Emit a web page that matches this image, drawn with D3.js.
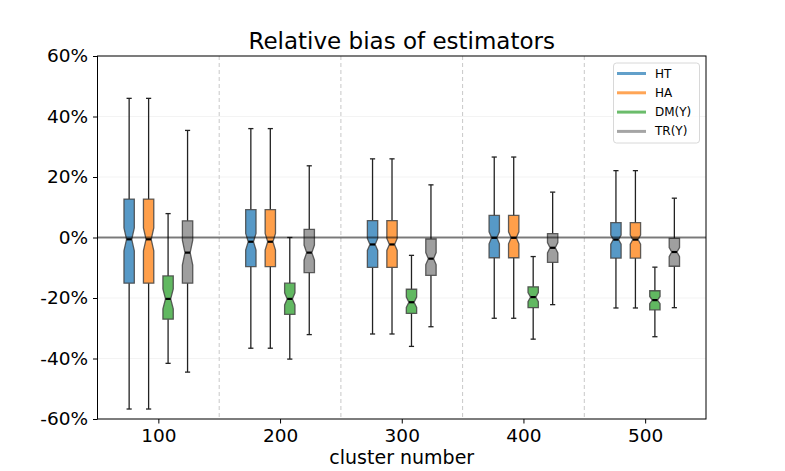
<!DOCTYPE html>
<html>
<head>
<meta charset="utf-8">
<script src="https://cdn.jsdelivr.net/npm/d3@7"></script>
<style>
  body { margin: 0; background: #fff; }
  svg text { font-family: 'DejaVu Sans', sans-serif; fill: #000; }
</style>
</head>
<body>
<div id="chart"></div>
<script>
// Categories
var clusters = [100, 200, 300, 400, 500];
var estimators = ['HT', 'HA', 'DM(Y)', 'TR(Y)'];
var colors = ['#1f77b4', '#ff7f0e', '#2ca02c', '#7f7f7f'];
var offsets = [-24, -8, 8, 24]; // position inside each cluster group

// Box stats per estimator, one value per cluster (in %)
var whiskerHigh = [
  [46.0, 36.0, 26.0, 26.6, 22.1],
  [46.0, 36.0, 26.0, 26.6, 22.1],
  [7.9, 0.0, -5.9, -6.3, -9.8],
  [35.4, 23.7, 17.4, 15.0, 13.0]
];
var q3 = [
  [12.7, 9.2, 5.6, 7.3, 4.9],
  [12.7, 9.2, 5.6, 7.3, 4.9],
  [-12.7, -15.1, -17.1, -16.3, -17.6],
  [5.5, 2.7, -0.5, 1.3, -0.3]
];
var median = [
  [-0.6, -1.4, -2.3, -0.1, -0.7],
  [-0.6, -1.4, -2.3, -0.1, -0.7],
  [-20.3, -20.3, -21.4, -19.7, -20.7],
  [-5.0, -5.0, -7.0, -3.4, -4.8]
];
var q1 = [
  [-15.1, -9.6, -9.9, -6.7, -6.8],
  [-15.1, -9.6, -9.9, -6.7, -6.8],
  [-27.0, -25.4, -25.1, -23.2, -23.9],
  [-15.1, -11.6, -12.5, -8.2, -9.5]
];
var whiskerLow = [
  [-56.7, -36.6, -31.9, -26.7, -23.3],
  [-56.7, -36.6, -31.9, -26.7, -23.3],
  [-41.6, -40.2, -36.0, -33.6, -32.8],
  [-44.5, -32.1, -29.5, -22.2, -23.2]
];
// notch half height (in %)
var notch = [
  [3.8, 2.75, 2.0, 2.0, 1.5],
  [3.8, 2.75, 2.0, 2.0, 1.5],
  [3.3, 2.0, 1.7, 1.5, 1.2],
  [4.1, 2.5, 2.0, 1.7, 1.5]
];

var yTicks = [-60, -40, -20, 0, 20, 40, 60];

function init() {
  var w = 785;
  var h = 471;
  var left = 97.5, right = 706, top = 56, bottom = 419;

  var svg = d3.select('#chart').append('svg')
    .attr('width', w)
    .attr('height', h);

  // Scales
  var xScale = d3.scaleLinear().domain([50, 550]).range([left, right]);
  var yScale = d3.scaleLinear().domain([-60, 60]).range([bottom, top]);
  var boxWidth = 8.5;

  // Horizontal grid
  svg.append('g')
    .selectAll('line')
    .data(yTicks)
    .enter()
    .append('line')
    .attr('x1', left).attr('x2', right)
    .attr('y1', function (d) { return yScale(d); })
    .attr('y2', function (d) { return yScale(d); })
    .attr('stroke', '#b0b0b0')
    .attr('stroke-opacity', 0.2)
    .attr('stroke-width', 0.8);

  // Vertical dashed separators
  svg.append('g')
    .selectAll('line')
    .data(clusters.slice(0, -1))
    .enter()
    .append('line')
    .attr('x1', function (d) { return xScale(d + 50); })
    .attr('x2', function (d) { return xScale(d + 50); })
    .attr('y1', top).attr('y2', bottom)
    .attr('stroke', '#c8c8c8')
    .attr('stroke-width', 1)
    .attr('stroke-dasharray', '4,3');

  // Boxes
  estimators.forEach(function (name, s) {
    var g = svg.append('g');
    var data = clusters.map(function (c, i) {
      return {
        x: c + offsets[s],
        lo: whiskerLow[s][i], q1: q1[s][i], med: median[s][i],
        q3: q3[s][i], hi: whiskerHigh[s][i], n: notch[s][i]
      };
    });

    // whiskers
    g.selectAll('.whisker-lo')
      .data(data).enter().append('line')
      .attr('x1', function (d) { return xScale(d.x); })
      .attr('x2', function (d) { return xScale(d.x); })
      .attr('y1', function (d) { return yScale(d.q1); })
      .attr('y2', function (d) { return yScale(d.lo); })
      .attr('stroke', '#222').attr('stroke-width', 1.3);
    g.selectAll('.whisker-hi')
      .data(data).enter().append('line')
      .attr('x1', function (d) { return xScale(d.x); })
      .attr('x2', function (d) { return xScale(d.x); })
      .attr('y1', function (d) { return yScale(d.q3); })
      .attr('y2', function (d) { return yScale(d.hi); })
      .attr('stroke', '#222').attr('stroke-width', 1.3);

    // caps
    ['lo', 'hi'].forEach(function (k) {
      g.selectAll('.cap-' + k)
        .data(data).enter().append('line')
        .attr('x1', function (d) { return xScale(d.x - boxWidth / 4); })
        .attr('x2', function (d) { return xScale(d.x + boxWidth / 4); })
        .attr('y1', function (d) { return yScale(d[k]); })
        .attr('y2', function (d) { return yScale(d[k]); })
        .attr('stroke', '#222').attr('stroke-width', 1.3);
    });

    // notched box
    g.selectAll('path')
      .data(data).enter().append('path')
      .attr('d', function (d) {
        var bl = xScale(d.x - boxWidth / 2), br = xScale(d.x + boxWidth / 2);
        var cl = xScale(d.x - boxWidth / 4), cr = xScale(d.x + boxWidth / 4);
        var pts = [
          [bl, d.q1], [br, d.q1], [br, d.med - d.n], [cr, d.med],
          [br, d.med + d.n], [br, d.q3], [bl, d.q3], [bl, d.med + d.n],
          [cl, d.med], [bl, d.med - d.n]
        ];
        return 'M' + pts.map(function (p) { return p[0] + ',' + yScale(p[1]); }).join('L') + 'Z';
      })
      .attr('fill', colors[s])
      .attr('fill-opacity', 0.75)
      .attr('stroke', '#444')
      .attr('stroke-opacity', 0.85)
      .attr('stroke-width', 1.3);

    // median
    g.selectAll('.median')
      .data(data).enter().append('line')
      .attr('x1', function (d) { return xScale(d.x - boxWidth / 4); })
      .attr('x2', function (d) { return xScale(d.x + boxWidth / 4); })
      .attr('y1', function (d) { return yScale(d.med); })
      .attr('y2', function (d) { return yScale(d.med); })
      .attr('stroke', '#000').attr('stroke-width', 2.2);
  });

  // Zero line
  svg.append('line')
    .attr('x1', left).attr('x2', right)
    .attr('y1', yScale(0)).attr('y2', yScale(0))
    .attr('stroke', '#000')
    .attr('stroke-opacity', 0.5)
    .attr('stroke-width', 1.8);

  // Frame
  svg.append('rect')
    .attr('x', left).attr('y', top)
    .attr('width', right - left).attr('height', bottom - top)
    .attr('fill', 'none')
    .attr('stroke', '#000')
    .attr('stroke-width', 1);

  // Axes
  var xAxis = d3.axisBottom(xScale).tickValues(clusters).tickSize(4.5).tickPadding(5);
  var gx = svg.append('g')
    .attr('transform', 'translate(0,' + bottom + ')')
    .call(xAxis);
  var yAxis = d3.axisLeft(yScale).tickValues(yTicks).tickSize(4.5).tickPadding(5)
    .tickFormat(function (d) { return d + '%'; });
  var gy = svg.append('g')
    .attr('transform', 'translate(' + left + ',0)')
    .call(yAxis);
  [gx, gy].forEach(function (g) {
    g.select('.domain').remove();
    g.selectAll('text').style('font-size', '18.5px').style('font-family', 'DejaVu Sans');
    g.selectAll('line').attr('stroke', '#000');
  });

  // Title and label
  svg.append('text')
    .attr('x', (left + right) / 2).attr('y', 48.5)
    .attr('text-anchor', 'middle')
    .style('font-size', '23px')
    .text('Relative bias of estimators');
  svg.append('text')
    .attr('x', (left + right) / 2).attr('y', 464)
    .attr('text-anchor', 'middle')
    .style('font-size', '19px')
    .text('cluster number');

  // Legend
  var lg = svg.append('g');
  lg.append('rect')
    .attr('x', 613.5).attr('y', 63)
    .attr('width', 86).attr('height', 80)
    .attr('rx', 3)
    .attr('fill', '#fff').attr('fill-opacity', 0.8)
    .attr('stroke', '#d8d8d8');
  estimators.forEach(function (name, s) {
    var yy = 73.5 + s * 19.3;
    lg.append('line')
      .attr('x1', 617).attr('x2', 646)
      .attr('y1', yy).attr('y2', yy)
      .attr('stroke', colors[s])
      .attr('stroke-opacity', 0.7)
      .attr('stroke-width', 3);
    lg.append('text')
      .attr('x', 655).attr('y', yy + 4)
      .style('font-size', '12px')
      .text(name);
  });
}

window.onload = init;
</script>
</body>
</html>
